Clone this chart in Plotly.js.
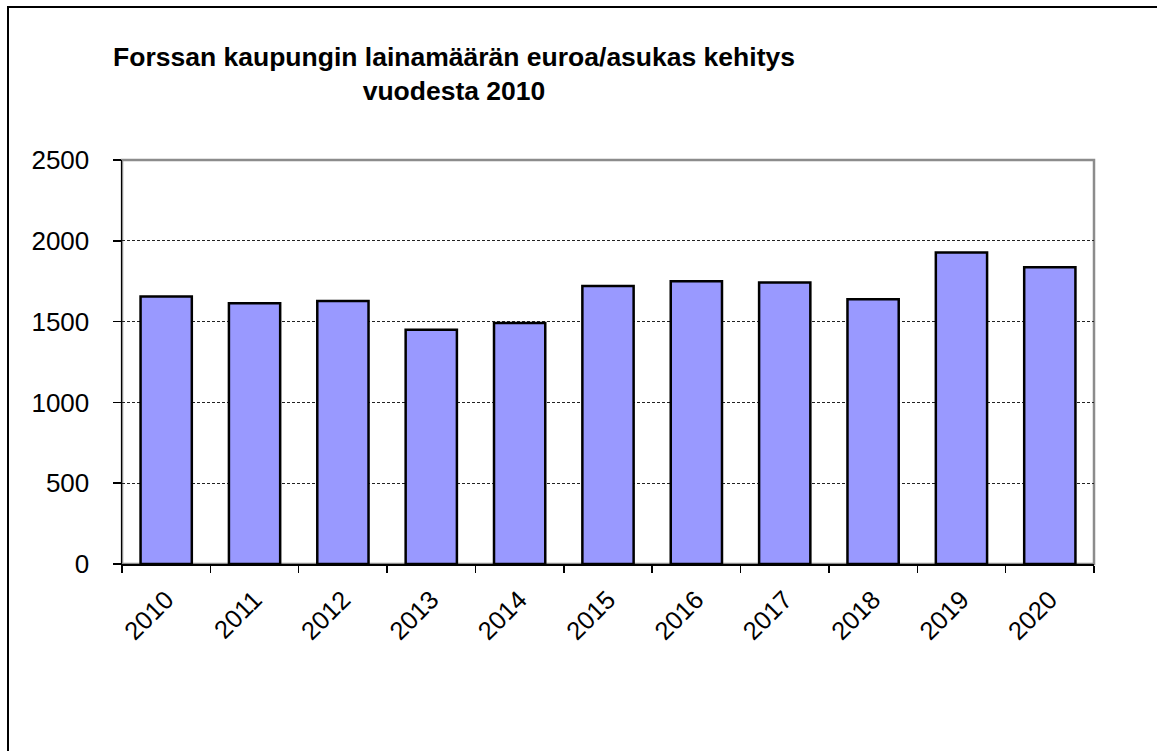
<!DOCTYPE html>
<html>
<head>
<meta charset="utf-8">
<script src="https://cdn.plot.ly/plotly-3.0.1.min.js"></script>
<style>
  html, body { margin: 0; padding: 0; background: #fff; }
  #frame { position: absolute; left: 7px; top: 6px; width: 1200px; height: 800px;
           border-top: 2px solid #000; border-left: 2px solid #000; pointer-events: none; z-index: 2; }
  #chart { position: absolute; left: 0; top: 0; width: 1157px; height: 751px; }
</style>
</head>
<body>
<div id="chart"></div>
<div id="frame"></div>
<script>
const years = ['2010','2011','2012','2013','2014','2015','2016','2017','2018','2019','2020'];
const euroPerResident = [1655, 1614, 1628, 1449, 1491, 1721, 1750, 1742, 1639, 1927, 1837];
const yTicks = [0, 500, 1000, 1500, 2000, 2500];
const chartTitle = 'Forssan kaupungin lainamäärän euroa/asukas kehitys<br>vuodesta 2010';

const font = 'Liberation Sans, Arial, sans-serif';

const trace = {
  type: 'bar',
  x: years,
  y: euroPerResident,
  marker: { color: '#9999FF', line: { color: '#000000', width: 2.5 } },
  hoverinfo: 'x+y'
};

const layout = {
  width: 1157, height: 751,
  paper_bgcolor: '#ffffff', plot_bgcolor: '#ffffff',
  margin: { l: 122, r: 63, t: 160, b: 187 },
  bargap: 0.42,
  showlegend: false,
  title: {
    text: chartTitle,
    font: { family: font, size: 26.5, color: '#000', weight: 'bold' },
    xref: 'container', x: 454 / 1157, xanchor: 'center',
    yref: 'container', y: 1 - 66 / 751, yanchor: 'top'
  },
  xaxis: {
    type: 'category',
    tickangle: -45,
    tickfont: { family: font, size: 25.5, color: '#000' },
    ticks: 'outside', ticklen: 7, tickwidth: 1.5, tickcolor: '#000',
    tickson: 'boundaries',
    ticklabelstandoff: 9,
    showline: true, linecolor: '#000', linewidth: 1.5,
    showgrid: false, zeroline: false
  },
  yaxis: {
    range: [0, 2500],
    tickvals: yTicks,
    ticktext: yTicks.map(String),
    tickfont: { family: font, size: 26, color: '#000' },
    ticks: 'outside', ticklen: 8, tickwidth: 1.5, tickcolor: '#000',
    ticklabelstandoff: 18,
    showline: true, linecolor: '#000', linewidth: 1.5,
    showgrid: true, gridcolor: '#222', gridwidth: 1, griddash: '3px,2px',
    zeroline: false
  },
  shapes: [{
    type: 'rect', xref: 'paper', yref: 'paper', x0: 0, x1: 1, y0: 0, y1: 1,
    line: { color: '#8c8c8c', width: 2.5 }, layer: 'below'
  }]
};

Plotly.newPlot('chart', [trace], layout, { displayModeBar: false, staticPlot: true });
</script>
</body>
</html>
